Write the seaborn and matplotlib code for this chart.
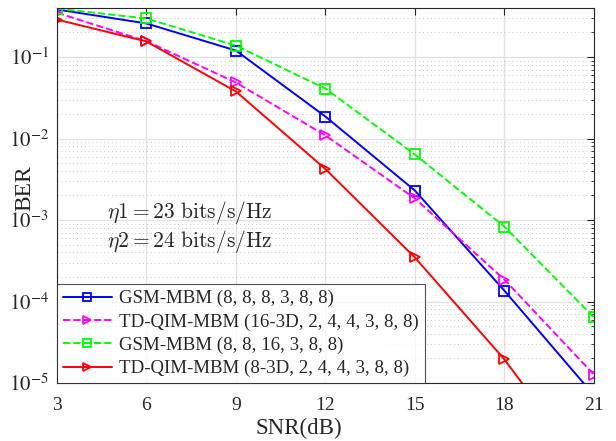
import numpy as np
import pandas as pd
import seaborn as sns
import matplotlib.pyplot as plt
from matplotlib.ticker import LogLocator, NullFormatter, FuncFormatter

# Dados
snr = [3, 6, 9, 12, 15, 18, 21]
ber_gsm_8 = [0.383, 0.258, 0.120, 0.0186, 0.0023, 1.36e-4, 7.1e-6]
ber_tdqim_16 = [0.350, 0.156, 0.0487, 0.0109, 0.00184, 1.86e-4, 1.27e-5]
ber_gsm_16 = [0.393, 0.297, 0.138, 0.041, 0.00637, 8.3e-4, 6.4e-5]
ber_tdqim_8 = [0.288, 0.155, 0.0378, 0.00422, 3.47e-4, 1.95e-5, 6.6e-7]

labels = ['GSM-MBM (8, 8, 8, 3, 8, 8)',
          'TD-QIM-MBM (16-3D, 2, 4, 4, 3, 8, 8)',
          'GSM-MBM (8, 8, 16, 3, 8, 8)',
          'TD-QIM-MBM (8-3D, 2, 4, 4, 3, 8, 8)']

sns.set_style('white')
plt.rcParams['font.family'] = ['Liberation Serif', 'DejaVu Serif']
plt.rcParams['mathtext.fontset'] = 'stix'

fig = plt.figure(figsize=(6.16, 4.41), dpi=100)
ax = fig.add_axes([0.0925, 0.1315, 0.8715, 0.8505])

series = [
    (ber_gsm_8, 'blue', '-', 's'),
    (ber_tdqim_16, 'magenta', '--', '>'),
    (ber_gsm_16, 'lime', '--', 's'),
    (ber_tdqim_8, 'red', '-', '>'),
]

for (vals, cor, ls, mk), lab in zip(series, labels):
    df = pd.DataFrame({'SNR': snr, 'BER': vals})
    sns.lineplot(data=df, x='SNR', y='BER', ax=ax, color=cor, linestyle=ls,
                 linewidth=1.4, marker=mk, markersize=6.5, markerfacecolor='none',
                 markeredgecolor=cor, markeredgewidth=1.3, label=lab)

ax.set_yscale('log')
ax.set_xlim(3, 21)
ax.set_ylim(1e-5, 0.4)
ax.set_xticks(snr)
ax.yaxis.set_major_locator(LogLocator(base=10, numticks=10))
ax.yaxis.set_minor_locator(LogLocator(base=10, subs=np.arange(2, 10), numticks=20))
ax.yaxis.set_minor_formatter(NullFormatter())
ax.yaxis.set_major_formatter(FuncFormatter(
    lambda v, p: r'$10^{\mathrm{-%d}}$' % round(-np.log10(v))))

ax.grid(True, which='major', color='#e0e0e0', linewidth=0.9)
ax.grid(True, which='minor', axis='y', color='#c8c8c8', linestyle=(0, (1, 3)), linewidth=0.7)
ax.set_axisbelow(True)

ax.tick_params(which='both', direction='in', top=True, right=True, color='#262626')
ax.tick_params(axis='x', labelsize=14, pad=10)
ax.tick_params(axis='y', labelsize=15, pad=6)
ax.tick_params(which='major', length=5, width=0.8)
ax.tick_params(which='minor', length=2.5, width=0.6)
for s in ax.spines.values():
    s.set_color('#262626')
    s.set_linewidth(0.8)

ax.set_xlabel('SNR(dB)', fontsize=16.5)
ax.xaxis.set_label_coords(0.45, -0.094)
ax.set_ylabel('BER', fontsize=17)
ax.yaxis.set_label_coords(-0.041, 0.52)

ax.text(0.093, 0.455, r'$\eta1 = 23\ \mathrm{bits/s/Hz}$', transform=ax.transAxes,
        fontsize=15.5, math_fontfamily='cm', va='center')
ax.text(0.093, 0.378, r'$\eta2 = 24\ \mathrm{bits/s/Hz}$', transform=ax.transAxes,
        fontsize=15.5, math_fontfamily='cm', va='center')

leg = ax.legend(loc='lower left', fontsize=13.6, frameon=True, fancybox=False,
                borderaxespad=0, handlelength=2.6, handletextpad=0.4,
                borderpad=0.3, labelspacing=0.32, markerscale=0.85)
leg.get_frame().set_edgecolor('#262626')
leg.get_frame().set_linewidth(0.8)

fig.savefig('out.png', dpi=100)
